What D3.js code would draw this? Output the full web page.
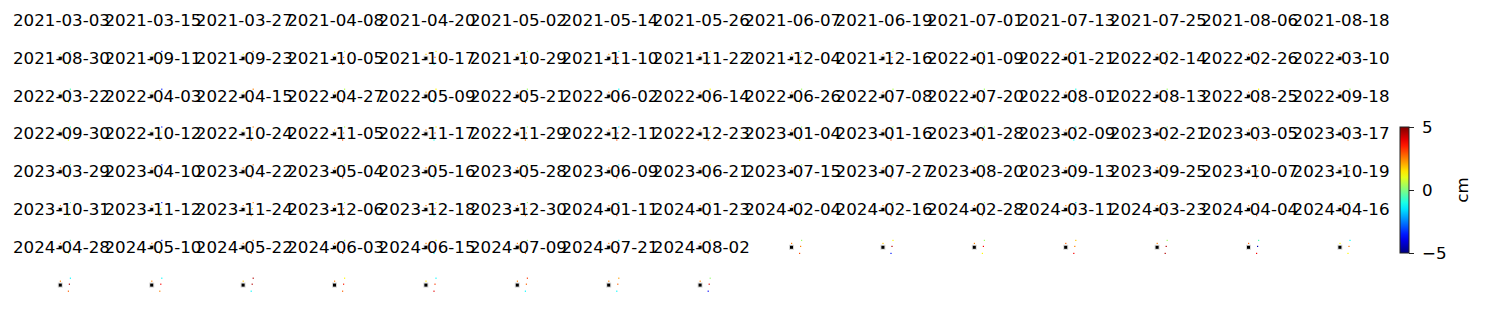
<!DOCTYPE html>
<html>
<head>
<meta charset="utf-8">
<script src="https://cdn.jsdelivr.net/npm/d3@7"></script>
<style>
  body { margin: 0; background: #fff; }
  text { font-family: "DejaVu Sans", sans-serif; }
</style>
</head>
<body>
<div id="chart"></div>
<script>
// acquisition dates, one small panel each
var dates = [
  "2021-03-03","2021-03-15","2021-03-27","2021-04-08","2021-04-20","2021-05-02","2021-05-14","2021-05-26","2021-06-07","2021-06-19","2021-07-01","2021-07-13","2021-07-25","2021-08-06","2021-08-18",
  "2021-08-30","2021-09-11","2021-09-23","2021-10-05","2021-10-17","2021-10-29","2021-11-10","2021-11-22","2021-12-04","2021-12-16","2022-01-09","2022-01-21","2022-02-14","2022-02-26","2022-03-10",
  "2022-03-22","2022-04-03","2022-04-15","2022-04-27","2022-05-09","2022-05-21","2022-06-02","2022-06-14","2022-06-26","2022-07-08","2022-07-20","2022-08-01","2022-08-13","2022-08-25","2022-09-18",
  "2022-09-30","2022-10-12","2022-10-24","2022-11-05","2022-11-17","2022-11-29","2022-12-11","2022-12-23","2023-01-04","2023-01-16","2023-01-28","2023-02-09","2023-02-21","2023-03-05","2023-03-17",
  "2023-03-29","2023-04-10","2023-04-22","2023-05-04","2023-05-16","2023-05-28","2023-06-09","2023-06-21","2023-07-15","2023-07-27","2023-08-20","2023-09-13","2023-09-25","2023-10-07","2023-10-19",
  "2023-10-31","2023-11-12","2023-11-24","2023-12-06","2023-12-18","2023-12-30","2024-01-11","2024-01-23","2024-02-04","2024-02-16","2024-02-28","2024-03-11","2024-03-23","2024-04-04","2024-04-16",
  "2024-04-28","2024-05-10","2024-05-22","2024-06-03","2024-06-15","2024-07-09","2024-07-21","2024-08-02"
];

// point locations (km east / north of the reference point)
var refX = 0, refY = 0;
var ptX = [0.0, 1.0, 0.9, 0.8];
var ptY = [0.4, 0.7, 0.1, -0.6];

// displacement (cm) for each point, one value per date
var valA = [
  0.3,0.5,1.0,1.5,1.8,2.0,2.2,2.5,2.5,2.5,2.6,2.5,2.5,2.6,2.5,
  0.3,0.5,1.2,1.8,2.0,2.5,2.5,2.5,2.5,2.6,2.5,2.5,2.6,2.5,2.5,
  0.3,0.5,1.2,2.0,2.5,2.5,2.5,2.5,2.6,2.5,2.5,2.5,2.6,2.5,2.5,
  2.5,2.5,2.6,2.5,2.5,2.5,2.6,2.5,2.5,2.5,2.6,2.5,2.5,2.5,2.6,
  2.5,2.5,2.6,2.5,2.5,2.5,2.6,2.5,2.5,2.5,2.6,2.5,2.5,2.5,2.6,
  2.5,2.5,2.6,2.5,2.5,2.5,2.6,2.5,2.5,1.8,2.5,2.8,2.5,2.8,1.3,
  2.5,2.5,1.8,2.5,1.5,2.5,2.5,2.5
];
var valB = [
  -0.5,-3.5,2.5,0.5,1.3,0.3,-1.2,1.3,0.3,0.5,0.3,-1.0,0.3,1.3,0.3,
  -0.5,-3.5,2.5,0.5,1.3,0.3,-1.2,1.3,0.3,0.5,0.3,-1.0,0.3,1.3,0.3,
  -0.5,-3.5,2.5,0.5,1.3,0.3,-1.2,1.3,0.3,0.5,0.3,-1.0,0.3,1.3,0.3,
  -0.5,-3.5,2.5,0.5,1.3,0.3,-1.2,1.3,0.3,0.5,0.3,-1.0,0.3,1.3,0.3,
  -0.5,-3.5,2.5,0.5,1.3,0.3,-1.2,1.3,0.3,0.5,0.3,-1.0,0.3,1.3,0.3,
  -0.5,-3.5,2.5,0.5,1.3,0.3,-1.2,1.3,0.3,1.3,0.3,1.8,0.3,-0.5,-1.2,
  -1.3,-1.3,4.5,1.3,-1.3,3.2,2.2,0.2
];
var valC = [
  0.5,1.0,2.0,2.5,3.0,2.5,3.5,2.0,2.5,3.0,3.5,2.5,3.0,2.5,3.5,
  0.5,1.0,2.0,2.5,3.0,2.5,3.5,2.0,2.5,3.0,3.5,2.5,3.0,2.5,3.5,
  0.5,1.0,2.0,2.5,3.0,2.5,3.5,2.0,2.5,3.0,3.5,2.5,3.0,2.5,3.5,
  0.5,1.0,2.0,2.5,3.0,2.5,3.5,2.0,2.5,3.0,3.5,2.5,3.0,2.5,3.5,
  0.5,1.0,2.0,2.5,3.0,2.5,3.5,2.0,2.5,3.0,3.5,2.5,3.0,2.5,3.5,
  0.5,1.0,2.0,2.5,3.0,2.5,3.5,2.0,2.5,4.5,3.8,2.5,4.5,-4.5,2.5,
  4.5,3.8,4.5,3.5,3.2,2.8,2.8,4.0
];
var valD = [
  1.0,2.0,2.5,3.0,-1.0,2.5,3.0,2.5,1.3,3.0,2.5,-1.2,2.5,3.0,2.5,
  1.0,2.0,2.5,3.0,-1.0,2.5,3.0,2.5,1.3,3.0,2.5,-1.2,2.5,3.0,2.5,
  1.0,2.0,2.5,3.0,-1.0,2.5,3.0,2.5,1.3,3.0,2.5,-1.2,2.5,3.0,2.5,
  1.0,2.0,2.5,3.0,-1.0,2.5,3.0,2.5,1.3,3.0,2.5,-1.2,2.5,3.0,2.5,
  1.0,2.0,2.5,3.0,-1.0,2.5,3.0,2.5,1.3,3.0,2.5,-1.2,2.5,3.0,2.5,
  1.0,2.0,2.5,3.0,-1.0,2.5,3.0,2.5,3.0,-3.5,1.3,3.8,4.5,3.8,1.3,
  2.8,2.5,-1.3,2.8,4.0,-1.3,-1.3,-3.8
];
var cbTicks = [-5, 0, 5];

var svgWidth = 1485, svgHeight = 318;
var nCols = 15;
var colX0 = 61.5, colStep = 91.4;   // title centres
var rowY0 = 20, rowStep = 37.8;
var fontPx = 16.7;

var svg = d3.select("#chart").append("svg")
  .attr("width", svgWidth)
  .attr("height", svgHeight);

// jet colormap
var jet = d3.scaleLinear()
  .domain([-5, -3.75, -1.25, 1.25, 3.75, 5])
  .range(["#00007f", "#0000ff", "#00ffff", "#ffff00", "#ff0000", "#7f0000"])
  .clamp(true);

// local scales: km -> px, relative to reference point
var xS = d3.scaleLinear().domain([0, 1]).range([0, 10]);
var yS = d3.scaleLinear().domain([0, 1]).range([0, -10]);

var panelData = dates.map(function(d, i) {
  return { date: d, i: i, vals: [valA[i], valB[i], valC[i], valD[i]] };
});

var panels = svg.selectAll("g.panel")
  .data(panelData)
  .enter()
  .append("g")
  .attr("class", "panel")
  .attr("transform", function(d) {
    var c = d.i % nCols, r = Math.floor(d.i / nCols);
    return "translate(" + (colX0 + c * colStep) + "," + (rowY0 + r * rowStep) + ")";
  });

// image part: reference marker + coloured points
var imgs = panels.append("g")
  .attr("transform", "translate(-1.2,38.3)");

imgs.append("rect")
  .attr("x", xS(refX) - 2.5).attr("y", yS(refY) - 2.5)
  .attr("width", 5).attr("height", 5)
  .attr("fill", "#d6d6d6");
imgs.append("rect")
  .attr("x", xS(refX) - 1.5).attr("y", yS(refY) - 1.5)
  .attr("width", 3).attr("height", 3)
  .attr("fill", "#000");

imgs.selectAll("rect.pt")
  .data(function(d) { return d.vals.map(function(v, k) { return { v: v, k: k }; }); })
  .enter()
  .append("rect")
  .attr("class", "pt")
  .attr("x", function(p) { return Math.round(xS(ptX[p.k])) - 0.5; })
  .attr("y", function(p) { return Math.round(yS(ptY[p.k])) - 0.5; })
  .attr("width", 1.2).attr("height", 1.2)
  .attr("fill", function(p) { return jet(p.v); });

// titles drawn on top
svg.selectAll("text.title")
  .data(panelData)
  .enter()
  .append("text")
  .attr("class", "title")
  .attr("x", function(d) { return colX0 + (d.i % nCols) * colStep; })
  .attr("y", function(d) { return rowY0 + Math.floor(d.i / nCols) * rowStep + 6; })
  .attr("text-anchor", "middle")
  .attr("font-size", fontPx)
  .attr("fill", "#000")
  .text(function(d) { return d.date; });

// colour bar
var cbX = 1400, cbW = 9, cbTop = 127, cbBot = 253;
var cbScale = d3.scaleLinear().domain([-5, 5]).range([cbBot, cbTop]);

var grad = svg.append("defs").append("linearGradient")
  .attr("id", "jetgrad")
  .attr("x1", 0).attr("y1", 1).attr("x2", 0).attr("y2", 0);
d3.range(0, 1.0001, 0.05).forEach(function(t) {
  grad.append("stop")
    .attr("offset", t)
    .attr("stop-color", jet(-5 + 10 * t));
});

svg.append("rect")
  .attr("x", cbX).attr("y", cbTop)
  .attr("width", cbW).attr("height", cbBot - cbTop)
  .attr("fill", "url(#jetgrad)")
  .attr("stroke", "#222")
  .attr("stroke-width", 1);

var cbAxis = d3.axisRight(cbScale)
  .tickValues(cbTicks)
  .tickSize(5)
  .tickPadding(8)
  .tickFormat(function(d) { return d < 0 ? "\u2212" + Math.abs(d) : d; });

var cbG = svg.append("g")
  .attr("transform", "translate(" + (cbX + cbW) + ",0)")
  .call(cbAxis);
cbG.select(".domain").remove();
cbG.selectAll("text").attr("font-size", fontPx).attr("font-family", "DejaVu Sans, sans-serif").attr("fill", "#000");
cbG.selectAll("line").attr("stroke", "#222");

svg.append("text")
  .attr("transform", "translate(1468," + ((cbTop + cbBot) / 2) + ") rotate(-90)")
  .attr("text-anchor", "middle")
  .attr("font-size", fontPx)
  .attr("fill", "#000")
  .text("cm");
</script>
</body>
</html>
